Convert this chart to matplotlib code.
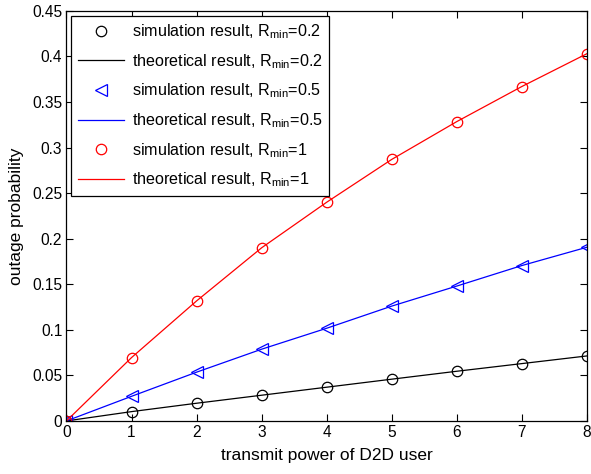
import matplotlib
matplotlib.use("Agg")
import matplotlib.pyplot as plt

plt.rcParams['font.family'] = ['Liberation Sans', 'DejaVu Sans']
plt.rcParams['mathtext.default'] = 'regular'

power = [0, 1, 2, 3, 4, 5, 6, 7, 8]
p_02 = [0, 0.0102, 0.0194, 0.0282, 0.037, 0.0458, 0.0545, 0.0629, 0.0713]
p_05 = [0, 0.027, 0.0535, 0.0787, 0.1017, 0.126, 0.148, 0.1705, 0.1906]
p_1 = [0, 0.0695, 0.1317, 0.19, 0.240, 0.287, 0.3285, 0.367, 0.403]

fig = plt.figure(figsize=(5.91, 4.74), dpi=100)
ax = fig.add_axes([0.1125, 0.112, 0.8805, 0.865])

ax.plot(power, p_02, 'o', color='black', mfc='none', ms=7.5, mew=0.9,
        label='simulation result, R$_{min}$=0.2')
ax.plot(power, p_02, '-', color='black', lw=0.9,
        label='theoretical result, R$_{min}$=0.2')
ax.plot(power, p_05, '<', color='blue', mfc='none', ms=8.5, mew=0.9,
        label='simulation result, R$_{min}$=0.5')
ax.plot(power, p_05, '-', color='blue', lw=0.9,
        label='theoretical result, R$_{min}$=0.5')
ax.plot(power, p_1, 'o', color='red', mfc='none', ms=7.5, mew=0.9,
        label='simulation result, R$_{min}$=1')
ax.plot(power, p_1, '-', color='red', lw=0.9,
        label='theoretical result, R$_{min}$=1')

ax.set_xlim(0, 8)
ax.set_ylim(0, 0.45)
ax.set_xticks(range(9))
ax.set_yticks([0, 0.05, 0.1, 0.15, 0.2, 0.25, 0.3, 0.35, 0.4, 0.45])
ax.set_yticklabels(['0', '0.05', '0.1', '0.15', '0.2', '0.25', '0.3', '0.35', '0.4', '0.45'])
ax.tick_params(direction='in', top=True, right=True, labelsize=11.2, length=5, pad=3)
for s in ax.spines.values():
    s.set_linewidth(0.9)

ax.set_xlabel('transmit power of D2D user', fontsize=12.5, labelpad=6)
ax.set_ylabel('outage probability', fontsize=12.5, labelpad=6)

leg = ax.legend(loc='upper left', fontsize=11.6, fancybox=False, edgecolor='black',
                handlelength=2.9, handletextpad=0.45, labelspacing=0.68,
                borderaxespad=0.3, framealpha=1)
leg.get_frame().set_linewidth(0.9)

fig.savefig('out.png', dpi=100)
